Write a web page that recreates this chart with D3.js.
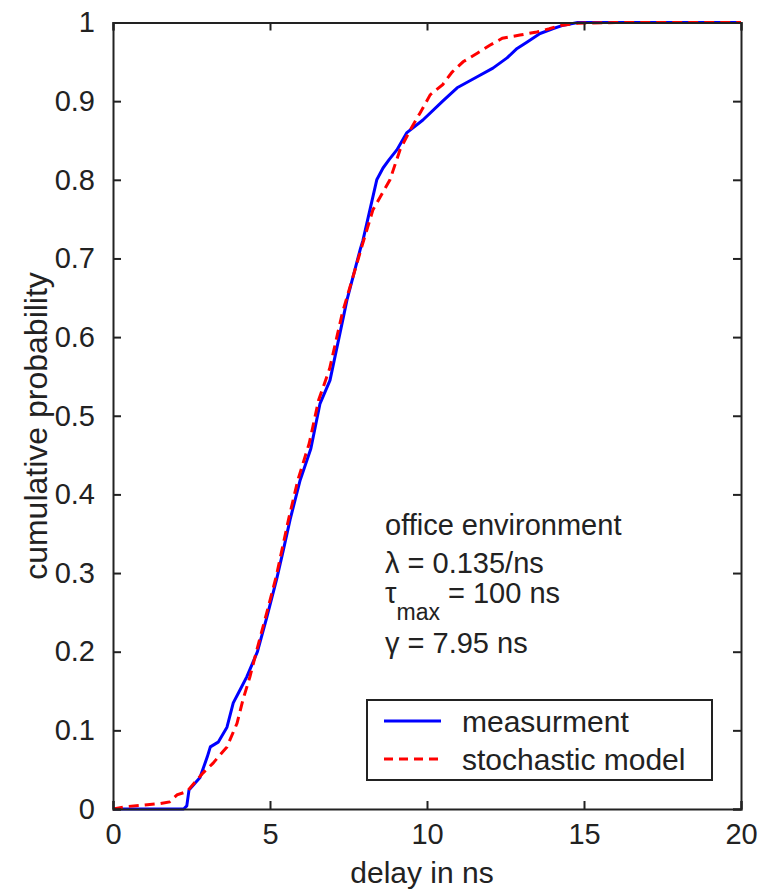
<!DOCTYPE html>
<html>
<head>
<meta charset="utf-8">
<script src="https://cdn.jsdelivr.net/npm/d3@7"></script>
<style>
  html, body { margin: 0; padding: 0; background: #fff; }
  svg { display: block; }
  text { font-family: "Liberation Sans", Arial, Helvetica, sans-serif; fill: #222; }
</style>
</head>
<body>
<svg id="chart" width="769" height="889"></svg>
<script>
// Measured delay CDF: [delay (ns), cumulative probability]
const measurement = [
  [0,0],[2.25,0],[2.35,0.004],[2.42,0.024],[2.77,0.04],[3.0,0.066],[3.1,0.079],
  [3.35,0.085],[3.63,0.104],[3.83,0.135],[4.04,0.151],[4.26,0.168],[4.6,0.2],
  [4.9,0.244],[5.21,0.292],[5.43,0.33],[5.64,0.368],[5.96,0.418],[6.3,0.458],
  [6.59,0.515],[6.91,0.545],[7.34,0.626],[7.45,0.647],[7.87,0.711],[7.96,0.723],
  [8.2,0.765],[8.4,0.8],[8.6,0.815],[8.8,0.826],[9.04,0.838],[9.36,0.86],[9.87,0.876],
  [10.5,0.9],[10.96,0.917],[11.6,0.931],[12.1,0.942],[12.55,0.955],[12.87,0.967],
  [13.18,0.975],[13.6,0.986],[14.0,0.992],[14.3,0.996],[14.8,1.0],[20,1]
];

// Stochastic channel model CDF
const stochasticModel = [
  [0,0],[0.4,0.003],[1.0,0.005],[1.5,0.007],[1.8,0.009],[2.04,0.018],[2.35,0.022],
  [2.87,0.046],[3.18,0.058],[3.63,0.079],[3.95,0.109],[4.14,0.139],[4.36,0.168],
  [4.58,0.202],[4.9,0.25],[5.2,0.296],[5.6,0.37],[5.9,0.42],[6.25,0.465],
  [6.55,0.52],[6.9,0.56],[7.3,0.63],[7.55,0.664],[7.96,0.72],[8.28,0.762],
  [8.82,0.8],[9.14,0.838],[9.46,0.863],[9.78,0.885],[10.1,0.908],[10.5,0.921],
  [10.8,0.937],[11.15,0.95],[11.6,0.961],[12.0,0.971],[12.4,0.98],[12.96,0.984],
  [13.5,0.988],[13.9,0.992],[14.2,0.996],[14.8,0.999],[16,1],[20,1]
];

const xTicks = [0, 5, 10, 15, 20];
const yTicks = [0, 0.1, 0.2, 0.3, 0.4, 0.5, 0.6, 0.7, 0.8, 0.9, 1];
const legendLabels = ["measurment", "stochastic model"];

const svg = d3.select("#chart");
const plot = { left: 113, right: 741, top: 22.5, bottom: 809 };

const x = d3.scaleLinear().domain([0, 20]).range([plot.left, plot.right]);
const y = d3.scaleLinear().domain([0, 1]).range([plot.bottom, plot.top]);

const fontSize = 29;
const tickLen = 8;

// Curves (clipped to the axes box)
svg.append("clipPath").attr("id", "clip")
  .append("rect")
  .attr("x", plot.left).attr("y", plot.top - 2)
  .attr("width", plot.right - plot.left).attr("height", plot.bottom - plot.top + 4);

const line = d3.line().x(d => x(d[0])).y(d => y(d[1]));

const curves = svg.append("g").attr("clip-path", "url(#clip)");
curves.append("path")
  .datum(measurement)
  .attr("fill", "none").attr("stroke", "#0000ff").attr("stroke-width", 3)
  .attr("stroke-linejoin", "round")
  .attr("d", line);
curves.append("path")
  .datum(stochasticModel)
  .attr("fill", "none").attr("stroke", "#ff0000").attr("stroke-width", 3)
  .attr("stroke-dasharray", "10,6")
  .attr("d", line);

// Axes box with inward ticks on all four sides
const axisColor = "#222";
const bottomAxis = d3.axisBottom(x).tickValues(xTicks).tickSize(-tickLen).tickPadding(14)
  .tickFormat(d3.format("d"));
const topAxis = d3.axisTop(x).tickValues(xTicks).tickSize(-tickLen).tickFormat("");
const leftAxis = d3.axisLeft(y).tickValues(yTicks).tickSize(-tickLen).tickPadding(18)
  .tickFormat(d => d === 0 || d === 1 ? d3.format("d")(d) : d3.format(".1f")(d));
const rightAxis = d3.axisRight(y).tickValues(yTicks).tickSize(-tickLen).tickFormat("");

function styleAxis(g) {
  g.select(".domain").attr("stroke", axisColor).attr("stroke-width", 2);
  g.selectAll(".tick line").attr("stroke", axisColor).attr("stroke-width", 2);
  g.selectAll(".tick text")
    .attr("font-size", fontSize)
    .attr("font-family", "Liberation Sans, Arial, sans-serif")
    .attr("fill", "#222");
}

svg.append("g").attr("transform", `translate(0,${plot.bottom})`).call(bottomAxis).call(styleAxis);
svg.append("g").attr("transform", `translate(0,${plot.top})`).call(topAxis).call(styleAxis);
svg.append("g").attr("transform", `translate(${plot.left},0)`).call(leftAxis).call(styleAxis);
svg.append("g").attr("transform", `translate(${plot.right},0)`).call(rightAxis).call(styleAxis);

// Axis titles
svg.append("text")
  .attr("x", (plot.left + plot.right) / 2 - 5)
  .attr("y", 883)
  .attr("text-anchor", "middle")
  .attr("font-size", 30)
  .text("delay in ns");

svg.append("text")
  .attr("transform", `translate(47,426) rotate(-90)`)
  .attr("text-anchor", "middle")
  .attr("font-size", 32)
  .text("cumulative probability");

// Parameter annotation
const note = svg.append("g").attr("font-size", fontSize);
note.append("text").attr("x", 385).attr("y", 535).text("office environment");
note.append("text").attr("x", 385).attr("y", 573).text("λ = 0.135/ns");
const tau = note.append("text").attr("x", 385).attr("y", 603);
tau.append("tspan").text("τ");
tau.append("tspan").attr("dy", 17).attr("font-size", 23).text("max");
tau.append("tspan").attr("dy", -17).text(" = 100 ns");
note.append("text").attr("x", 385).attr("y", 653).text("γ = 7.95 ns");

// Legend
const legend = svg.append("g");
legend.append("rect")
  .attr("x", 367).attr("y", 700).attr("width", 345).attr("height", 80)
  .attr("fill", "#fff").attr("stroke", axisColor).attr("stroke-width", 2);
const legendStyles = [
  { color: "#0000ff", dash: null },
  { color: "#ff0000", dash: "9,6" }
];
legendLabels.forEach((label, i) => {
  const ly = 721 + i * 38;
  legend.append("line")
    .attr("x1", 384).attr("x2", 441).attr("y1", ly).attr("y2", ly)
    .attr("stroke", legendStyles[i].color).attr("stroke-width", 3)
    .attr("stroke-dasharray", legendStyles[i].dash);
  legend.append("text")
    .attr("x", 462).attr("y", ly + 11)
    .attr("font-size", 30)
    .text(label);
});
</script>
</body>
</html>
